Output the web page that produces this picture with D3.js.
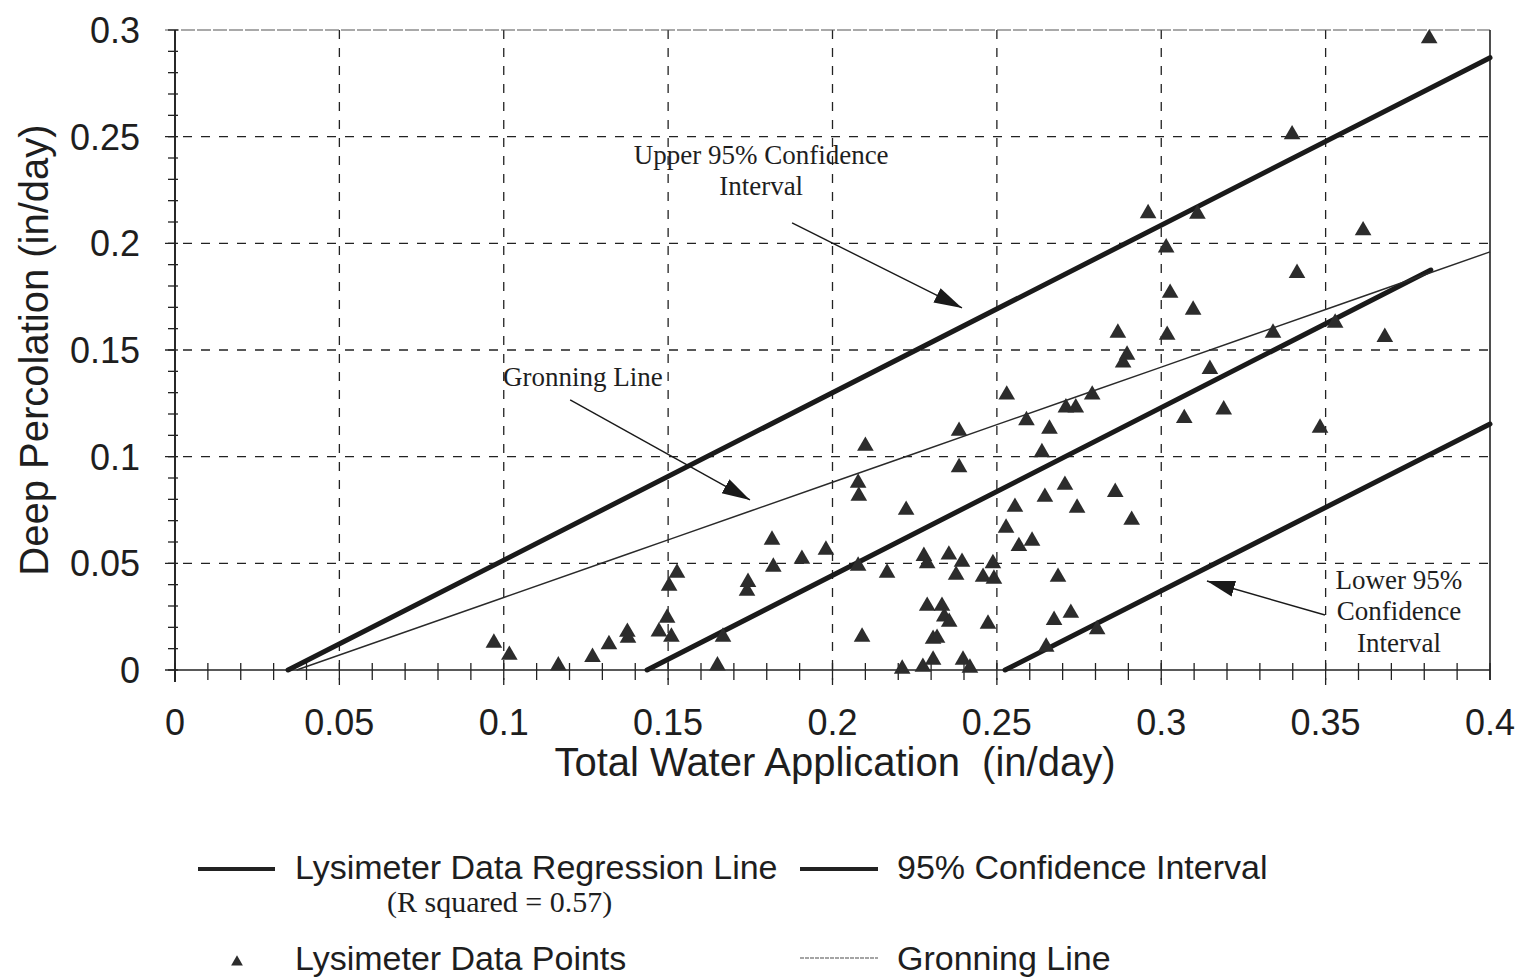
<!DOCTYPE html>
<html>
<head>
<meta charset="utf-8">
<script src="https://cdn.jsdelivr.net/npm/d3@7"></script>
<style>
  body { margin: 0; background: #fff; }
  svg { display: block; }
  text { fill: #1e1e1e; }
</style>
</head>
<body>
<div id="chart"></div>
<script>
// values
const xTicks = [0, 0.05, 0.1, 0.15, 0.2, 0.25, 0.3, 0.35, 0.4];
const yTicks = [0, 0.05, 0.1, 0.15, 0.2, 0.25, 0.3];

const lysX = [0.097, 0.1017, 0.1166, 0.127, 0.132, 0.1376, 0.1378, 0.1472, 0.1497, 0.151,
  0.1503, 0.1527, 0.165, 0.1667, 0.174, 0.1743, 0.1816, 0.182, 0.1907, 0.198,
  0.2078, 0.208, 0.210, 0.2078, 0.209, 0.2166, 0.2212, 0.2224, 0.2275, 0.2278,
  0.2288, 0.2288, 0.2306, 0.2318, 0.2306, 0.2333, 0.234, 0.2355, 0.2354, 0.2376,
  0.2385, 0.2385, 0.2394, 0.2397, 0.2418, 0.2458, 0.2473, 0.2488, 0.2491, 0.2528,
  0.253, 0.2555, 0.2567, 0.259, 0.2607, 0.2637, 0.2646, 0.265, 0.266, 0.2674,
  0.2686, 0.2707, 0.271, 0.2725, 0.274, 0.2744, 0.279, 0.2805, 0.286, 0.2868,
  0.2884, 0.2896, 0.291, 0.296, 0.3015, 0.3018, 0.3027, 0.307, 0.3097, 0.311,
  0.3148, 0.319, 0.334, 0.3398, 0.3413, 0.3483, 0.3529, 0.3614, 0.368, 0.3815];
const lysY = [0.0127, 0.007, 0.002, 0.006, 0.012, 0.0178, 0.015, 0.018, 0.0244, 0.0155,
  0.0394, 0.0455, 0.002, 0.0155, 0.037, 0.0412, 0.061, 0.0483, 0.052, 0.0563,
  0.0877, 0.0816, 0.105, 0.0488, 0.0155, 0.0455, 0.0005, 0.075, 0.0014, 0.0534,
  0.050, 0.030, 0.0145, 0.015, 0.0047, 0.030, 0.025, 0.0225, 0.054, 0.0445,
  0.112, 0.095, 0.0506, 0.0047, 0.001, 0.0436, 0.0216, 0.050, 0.0427, 0.0666,
  0.129, 0.0764, 0.058, 0.117, 0.0605, 0.102, 0.0811, 0.0108, 0.113, 0.0234,
  0.0436, 0.0867, 0.123, 0.0267, 0.123, 0.076, 0.129, 0.019, 0.0834, 0.158,
  0.144, 0.1477, 0.0703, 0.214, 0.198, 0.157, 0.1767, 0.118, 0.1688, 0.2138,
  0.141, 0.122, 0.158, 0.251, 0.186, 0.1135, 0.1627, 0.206, 0.156, 0.296];

const regressionLine = [[0.1436, 0], [0.382, 0.1875]];
const upperCI = [[0.0344, 0], [0.4, 0.287]];
const lowerCI = [[0.2525, 0], [0.4, 0.1153]];
const gronningX = [0.037, 0.1, 0.15, 0.2, 0.25, 0.3, 0.35, 0.4];
const gronningY = [0, 0.034, 0.061, 0.088, 0.115, 0.142, 0.169, 0.196];

const width = 1539, height = 980;
const margin = {left: 175, right: 49, top: 30, bottom: 310};

const svg = d3.select("#chart").append("svg")
  .attr("width", width).attr("height", height)
  .attr("viewBox", [0, 0, width, height]);

const x = d3.scaleLinear().domain([0, 0.4]).range([margin.left, width - margin.right]);
const y = d3.scaleLinear().domain([0, 0.3]).range([height - margin.bottom, margin.top]);
const fmt = d3.format("~g");

// grid
svg.append("g").selectAll("line").data(xTicks.slice(1, -1)).join("line")
  .attr("x1", d => x(d)).attr("x2", d => x(d))
  .attr("y1", y(0.3)).attr("y2", y(0) + 15)
  .attr("stroke", "#222").attr("stroke-width", 1.3).attr("stroke-dasharray", "9,9");
svg.append("g").selectAll("line").data(yTicks.slice(1, -1)).join("line")
  .attr("x1", x(0) - 10).attr("x2", x(0.4))
  .attr("y1", d => y(d)).attr("y2", d => y(d))
  .attr("stroke", "#222").attr("stroke-width", 1.3).attr("stroke-dasharray", "9,9");

// frame
svg.append("line").attr("x1", x(0) - 10).attr("x2", x(0.4)).attr("y1", y(0.3)).attr("y2", y(0.3))
  .attr("stroke", "#555").attr("stroke-width", 1.2).attr("stroke-dasharray", "14,2");
svg.append("line").attr("x1", x(0.4)).attr("x2", x(0.4)).attr("y1", y(0.3)).attr("y2", y(0) + 10)
  .attr("stroke", "#222").attr("stroke-width", 1.6);
svg.append("line").attr("x1", x(0)).attr("x2", x(0)).attr("y1", y(0.3)).attr("y2", y(0) + 12)
  .attr("stroke", "#111").attr("stroke-width", 1.8);
svg.append("line").attr("x1", x(0) - 10).attr("x2", x(0.4)).attr("y1", y(0)).attr("y2", y(0))
  .attr("stroke", "#222").attr("stroke-width", 1.4);

// minor ticks
svg.append("g").selectAll("line").data(x.ticks(40)).join("line")
  .attr("x1", d => x(d)).attr("x2", d => x(d))
  .attr("y1", y(0) - 7).attr("y2", y(0) + 10)
  .attr("stroke", "#222").attr("stroke-width", 1.3);
svg.append("g").selectAll("line").data(y.ticks(30)).join("line")
  .attr("x1", x(0) - 7).attr("x2", x(0) + 3)
  .attr("y1", d => y(d)).attr("y2", d => y(d))
  .attr("stroke", "#222").attr("stroke-width", 1.3);

// tick labels
svg.append("g").selectAll("text").data(xTicks).join("text")
  .attr("x", d => x(d)).attr("y", y(0) + 65)
  .attr("text-anchor", "middle")
  .style("font", "36px 'Liberation Sans', Arial, sans-serif")
  .text(d => fmt(d));
svg.append("g").selectAll("text").data(yTicks).join("text")
  .attr("x", x(0) - 35).attr("y", d => y(d)).attr("dy", "0.36em")
  .attr("text-anchor", "end")
  .style("font", "36px 'Liberation Sans', Arial, sans-serif")
  .text(d => fmt(d));

// axis titles
svg.append("text")
  .attr("x", 835).attr("y", 776)
  .attr("text-anchor", "middle")
  .style("font", "40px 'Liberation Sans', Arial, sans-serif")
  .style("white-space", "pre")
  .text("Total Water Application  (in/day)");
svg.append("text")
  .attr("transform", "translate(48,350) rotate(-90)")
  .attr("text-anchor", "middle")
  .style("font", "40px 'Liberation Sans', Arial, sans-serif")
  .text("Deep Percolation (in/day)");

// lines
const line = d3.line().x(d => x(d[0])).y(d => y(d[1]));
const plot = svg.append("g");
[upperCI, regressionLine, lowerCI].forEach(seg => {
  plot.append("path").datum(seg).attr("d", line)
    .attr("fill", "none").attr("stroke", "#1a1a1a").attr("stroke-width", 5)
    .attr("stroke-linecap", "round");
});
plot.append("path").datum(gronningX.map((v, i) => [v, gronningY[i]]))
  .attr("d", line.curve(d3.curveMonotoneX))
  .attr("fill", "none").attr("stroke", "#2a2a2a").attr("stroke-width", 1.4);

// data points
const tri = d3.symbol(d3.symbolTriangle, 120);
plot.selectAll(".pt").data(lysX.map((v, i) => [v, lysY[i]])).join("path")
  .attr("class", "pt")
  .attr("transform", d => `translate(${x(d[0])},${y(d[1])})`)
  .attr("d", tri)
  .attr("fill", "#2c2c2c");

// annotations
svg.append("defs").append("marker")
  .attr("id", "arr").attr("markerUnits", "userSpaceOnUse")
  .attr("viewBox", "0 -10 28 20").attr("refX", 28).attr("refY", 0)
  .attr("markerWidth", 28).attr("markerHeight", 20).attr("orient", "auto")
  .append("path").attr("d", "M0,-8L28,0L0,8Z").attr("fill", "#1a1a1a");

const notes = [
  {from: [0.1877, 0.2096], to: [0.2394, 0.1697]},
  {from: [0.1202, 0.1266], to: [0.1749, 0.0797]},
  {from: [0.3498, 0.0258], to: [0.3139, 0.0417]}
];
svg.append("g").selectAll("line").data(notes).join("line")
  .attr("x1", d => x(d.from[0])).attr("y1", d => y(d.from[1]))
  .attr("x2", d => x(d.to[0])).attr("y2", d => y(d.to[1]))
  .attr("stroke", "#1a1a1a").attr("stroke-width", 1.4)
  .attr("marker-end", "url(#arr)");

const labels = [
  {t: "Upper 95% Confidence", x: 0.1783, y: 0.2414, a: "middle"},
  {t: "Interval", x: 0.1783, y: 0.2269, a: "middle"},
  {t: "Gronning Line", x: 0.0998, y: 0.1374, a: "start"},
  {t: "Lower 95%", x: 0.3723, y: 0.0422, a: "middle"},
  {t: "Confidence", x: 0.3723, y: 0.0277, a: "middle"},
  {t: "Interval", x: 0.3723, y: 0.0131, a: "middle"}
];
svg.append("g").selectAll("text").data(labels).join("text")
  .attr("x", d => x(d.x)).attr("y", d => y(d.y)).attr("dy", "0.35em")
  .attr("text-anchor", d => d.a)
  .style("font", "27px 'Liberation Serif', 'Times New Roman', serif")
  .text(d => d.t);

// legend
const lg = svg.append("g").style("font", "34px 'Liberation Sans', Arial, sans-serif");
lg.append("line").attr("x1", 198).attr("x2", 275).attr("y1", 869).attr("y2", 869)
  .attr("stroke", "#222").attr("stroke-width", 4);
lg.append("text").attr("x", 295).attr("y", 879).text("Lysimeter Data Regression Line");
lg.append("text").attr("x", 387).attr("y", 912)
  .style("font", "30px 'Liberation Serif', 'Times New Roman', serif")
  .text("(R squared = 0.57)");
lg.append("line").attr("x1", 800).attr("x2", 878).attr("y1", 869).attr("y2", 869)
  .attr("stroke", "#222").attr("stroke-width", 4);
lg.append("text").attr("x", 897).attr("y", 879).text("95% Confidence Interval");
lg.append("path").attr("d", d3.symbol(d3.symbolTriangle, 60))
  .attr("transform", "translate(237,962)").attr("fill", "#2c2c2c");
lg.append("text").attr("x", 295).attr("y", 970).text("Lysimeter Data Points");
lg.append("line").attr("x1", 800).attr("x2", 878).attr("y1", 958).attr("y2", 958)
  .attr("stroke", "#888").attr("stroke-width", 1.3).attr("stroke-dasharray", "4,1");
lg.append("text").attr("x", 897).attr("y", 970).text("Gronning Line");
</script>
</body>
</html>
